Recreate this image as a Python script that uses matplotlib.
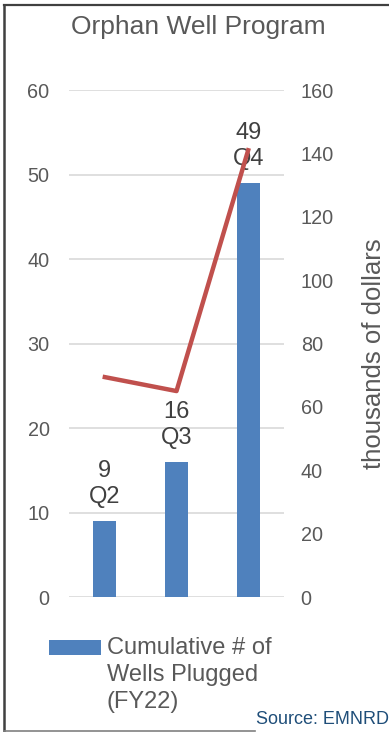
import matplotlib.pyplot as plt
from matplotlib.lines import Line2D

plt.rcParams['font.family'] = ['Liberation Sans', 'DejaVu Sans']

quarters = ['Q2', 'Q3', 'Q4']
wells = [9, 16, 49]
dollars = [69.4, 65, 141]
left_ticks = [0, 10, 20, 30, 40, 50, 60]
right_ticks = [0, 20, 40, 60, 80, 100, 120, 140, 160]

gray = '#595959'
fig = plt.figure(figsize=(3.89, 7.32), dpi=100)
ax = fig.add_axes([0.1774, 0.1844, 0.5527, 0.6926])
x = range(len(quarters))

ax.bar(x, wells, width=0.32, color='#4F81BD', zorder=2,
       label='Cumulative # of\nWells Plugged\n(FY22)')
for i, v in enumerate(wells):
    ax.annotate(f'{v}\n{quarters[i]}', (i, v), xytext=(0, 9), textcoords='offset points',
                ha='center', va='bottom', fontsize=17, color='#404040', linespacing=1.27)

ax.set_xlim(-0.5, 2.5)
ax.set_ylim(0, 60)
ax.set_yticks(left_ticks)
ax.set_xticks([])
ax.grid(axis='y', color='#D9D9D9', linewidth=1.2, zorder=0)
ax.tick_params(axis='y', length=0, labelsize=14.3, labelcolor=gray, pad=14)
for s in ax.spines.values():
    s.set_visible(False)

ax2 = ax.twinx()
ax2.plot(x, dollars, color='#C0504D', linewidth=3.2, zorder=3)
ax2.set_ylim(0, 160)
ax2.set_yticks(right_ticks)
ax2.tick_params(axis='y', length=0, labelsize=14.3, labelcolor=gray, pad=12)
ax2.set_ylabel('thousands of dollars', fontsize=18.5, color=gray, labelpad=20, y=0.48)
for s in ax2.spines.values():
    s.set_visible(False)

fig.text(0.509, 0.963, 'Orphan Well Program', ha='center', va='center', fontsize=19, color=gray)

leg = ax.legend(loc='upper left', bbox_to_anchor=(0.126, 0.130), bbox_transform=fig.transFigure,
                frameon=False, fontsize=17, handlelength=2.2, handleheight=0.6,
                labelcolor=gray, handletextpad=0.25, borderaxespad=0, borderpad=0)
for t in leg.get_texts():
    t.set_linespacing(1.3)
h = leg.legend_handles[0]
h.set_y(h.get_y() + 19.8)

fig.text(0.658, 0.0164, 'Source: EMNRD', ha='left', va='center', fontsize=13, color='#1F4E79')

fig.add_artist(Line2D([0.011, 1.0], [0.9935, 0.9935], color='#404040', linewidth=1.6))
fig.add_artist(Line2D([0.011, 0.011], [0.002, 0.9935], color='#404040', linewidth=1.8))
fig.add_artist(Line2D([0.011, 0.655], [0.002, 0.002], color='#808080', linewidth=1.2))

fig.savefig('out.png', dpi=100)
